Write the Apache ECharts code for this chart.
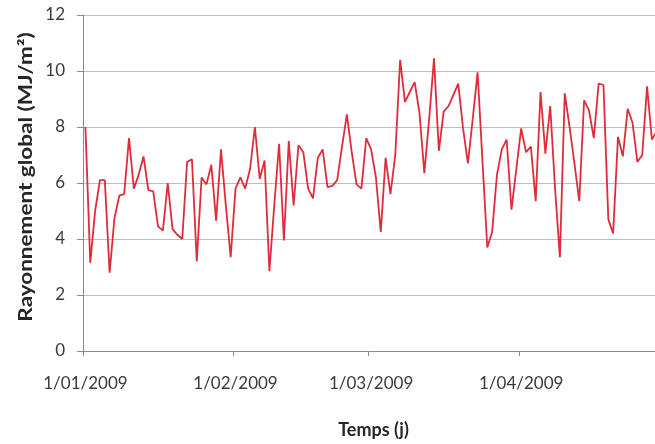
<!DOCTYPE html>
<html>
<head>
<meta charset="utf-8">
<script src="https://cdn.jsdelivr.net/npm/echarts@6/dist/echarts.min.js"></script>
<style>
  html, body { margin: 0; padding: 0; background: #ffffff; }
  #chart { width: 655px; height: 444px; }
</style>
</head>
<body>
<div id="chart"></div>
<script>
// Daily global radiation (MJ/m²), January to April 2009
const year = '2009';
const monthCodes = ['01', '02', '03', '04'];
const janValues = [8.0, 3.15, 5.0, 6.1, 6.1, 2.8, 4.75, 5.55, 5.6, 7.6, 5.8, 6.3, 6.95, 5.75, 5.7, 4.45, 4.3, 6.0, 4.35, 4.15, 4.0, 6.75, 6.85, 3.2, 6.2, 5.95, 6.65, 4.65, 7.2, 5.2, 3.35];
const febValues = [5.8, 6.2, 5.8, 6.5, 8.0, 6.15, 6.8, 2.85, 5.2, 7.4, 3.95, 7.5, 5.2, 7.35, 7.1, 5.8, 5.45, 6.9, 7.2, 5.85, 5.9, 6.1, 7.3, 8.45, 7.1, 5.95, 5.8, 7.6];
const marValues = [7.2, 6.2, 4.25, 6.9, 5.6, 7.0, 10.4, 8.9, 9.25, 9.6, 8.5, 6.35, 8.3, 10.45, 7.15, 8.55, 8.75, 9.15, 9.55, 7.95, 6.7, 8.3, 9.95, 6.8, 3.7, 4.25, 6.3, 7.2, 7.55, 5.05, 6.5];
const aprValues = [7.95, 7.1, 7.3, 5.35, 9.25, 7.05, 8.75, 5.8, 3.35, 9.2, 8.0, 6.7, 5.35, 8.95, 8.6, 7.6, 9.55, 9.5, 4.7, 4.2, 7.65, 6.95, 8.65, 8.15, 6.75, 7.0, 9.45, 7.55, 7.85, 7.0];

const monthValues = [janValues, febValues, marValues, aprValues];
const categories = [];
const values = [];
monthValues.forEach((arr, m) => {
  arr.forEach((v, i) => {
    categories.push((i + 1) + '/' + monthCodes[m] + '/' + year);
    values.push(v);
  });
});

const isMonthStart = (index, value) => String(value).indexOf('1/') === 0;

const chart = echarts.init(document.getElementById('chart'), null, { renderer: 'canvas' });
chart.setOption({
  animation: false,
  backgroundColor: '#ffffff',
  grid: {
    left: 83, top: 15, height: 336, width: 581,
    containLabel: false,
    outerBoundsMode: 'none'
  },
  xAxis: {
    type: 'category',
    data: categories,
    boundaryGap: true,
    name: 'Temps (j)',
    nameLocation: 'middle',
    nameGap: 70,
    nameTextStyle: { fontFamily: 'Lato', fontWeight: 'bold', fontSize: 18, color: '#262626' },
    axisLine: { lineStyle: { color: '#8a8a8a', width: 1 } },
    axisTick: { show: true, interval: isMonthStart, length: 5, lineStyle: { color: '#8a8a8a' } },
    axisLabel: { interval: isMonthStart, margin: 24, fontFamily: 'Lato', fontSize: 17, color: '#3a3a3a' },
    splitLine: { show: false }
  },
  yAxis: {
    type: 'value',
    min: 0,
    max: 12,
    interval: 2,
    axisLine: { show: true, lineStyle: { color: '#8a8a8a', width: 1 } },
    axisTick: { show: true, length: 6, lineStyle: { color: '#8a8a8a' } },
    axisLabel: { margin: 18, fontFamily: 'Lato', fontSize: 17, color: '#3a3a3a' },
    splitLine: { show: true, lineStyle: { color: '#bdbdbd', width: 1 } }
  },
  graphic: [{
    type: 'text',
    x: 26,
    y: 177,
    rotation: Math.PI / 2,
    scaleX: 1.25,
    style: {
      text: 'Rayonnement global (MJ/m²)',
      fontFamily: 'Lato',
      fontWeight: 'bold',
      fontSize: 18,
      fill: '#262626',
      align: 'center',
      verticalAlign: 'middle'
    }
  }],
  series: [{
    type: 'line',
    data: values,
    symbol: 'none',
    smooth: false,
    lineStyle: { color: '#de2c3c', width: 1.8 }
  }]
});
</script>
</body>
</html>
